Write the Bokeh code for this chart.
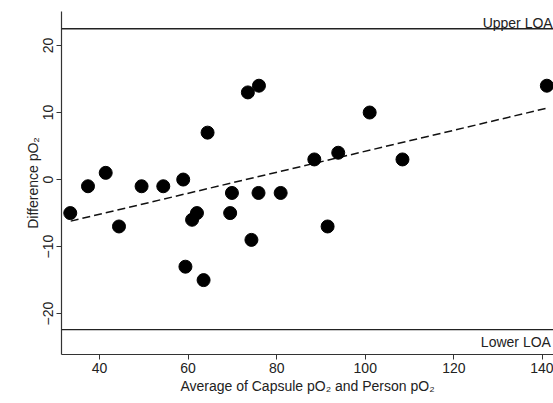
from bokeh.plotting import figure
from bokeh.models import Span, Label, Range1d, FixedTicker
from bokeh.embed import file_html
from bokeh.resources import INLINE

# Data
avg_po2 = [33.4, 37.4, 41.4, 44.4, 49.5, 54.4, 58.9, 59.4, 60.9, 62.0, 63.5, 64.4,
           69.5, 69.9, 73.5, 74.3, 76.0, 75.9, 80.9, 88.5, 91.5, 93.9, 101.0, 108.4, 141.0]
diff_po2 = [-5, -1, 1, -7, -1, -1, 0, -13, -6, -5, -15, 7,
            -5, -2, 13, -9, 14, -2, -2, 3, -7, 4, 10, 3, 14]
fit_x = [33.5, 140.7]
fit_y = [-6.2, 10.6]
upper_loa = 22.5
lower_loa = -22.4
x_ticks = [40, 60, 80, 100, 120, 140]
y_ticks = [-20, -10, 0, 10, 20]

FONT = "Liberation Sans"
TXT = "#222222"

p = figure(width=553, height=400, output_backend="svg", toolbar_location=None,
           x_range=Range1d(31.42, 142.5), y_range=Range1d(-26.1, 25.07),
           min_border_left=61, min_border_right=0, min_border_top=11, min_border_bottom=46)
p.outline_line_color = None
p.xgrid.visible = False
p.ygrid.visible = False
p.background_fill_color = "white"

p.xaxis.ticker = FixedTicker(ticks=x_ticks)
p.yaxis.ticker = FixedTicker(ticks=y_ticks)
for ax in (p.xaxis, p.yaxis):
    ax.axis_line_color = "#333333"
    ax.axis_line_width = 1.2
    ax.major_tick_line_color = "#333333"
    ax.major_tick_out = 5
    ax.major_tick_in = 0
    ax.minor_tick_line_color = None
    ax.major_label_text_font = FONT
    ax.major_label_text_font_size = "14px"
    ax.major_label_text_color = TXT
    ax.axis_label_text_font = FONT
    ax.axis_label_text_font_size = "14px"
    ax.axis_label_text_font_style = "normal"
    ax.axis_label_text_color = TXT
    ax.major_label_standoff = 3
    ax.axis_label_standoff = 2
p.yaxis.major_label_orientation = "vertical"
p.yaxis.axis_label_standoff = 0
p.xaxis.axis_label = "Average of Capsule pO\u2082 and Person pO\u2082"
p.yaxis.axis_label = "Difference pO\u2082"

p.add_layout(Span(location=upper_loa, dimension="width", line_color="#222222", line_width=1.3))
p.add_layout(Span(location=lower_loa, dimension="width", line_color="#222222", line_width=1.3))

p.line(fit_x, fit_y, line_color="#111111", line_width=1.5, line_dash="8 4")
p.scatter(avg_po2, diff_po2, size=13, fill_color="black", line_color="black")

p.add_layout(Label(x=126.5, y=upper_loa, text="Upper LOA", y_offset=6,
                   text_font=FONT, text_font_size="14px", text_color=TXT,
                   text_baseline="alphabetic", level="overlay"))
p.add_layout(Label(x=126.1, y=lower_loa, text="Lower LOA", y_offset=-4,
                   text_font=FONT, text_font_size="14px", text_color=TXT,
                   text_baseline="top", level="overlay"))

open("out.html", "w").write(file_html(p, INLINE))
